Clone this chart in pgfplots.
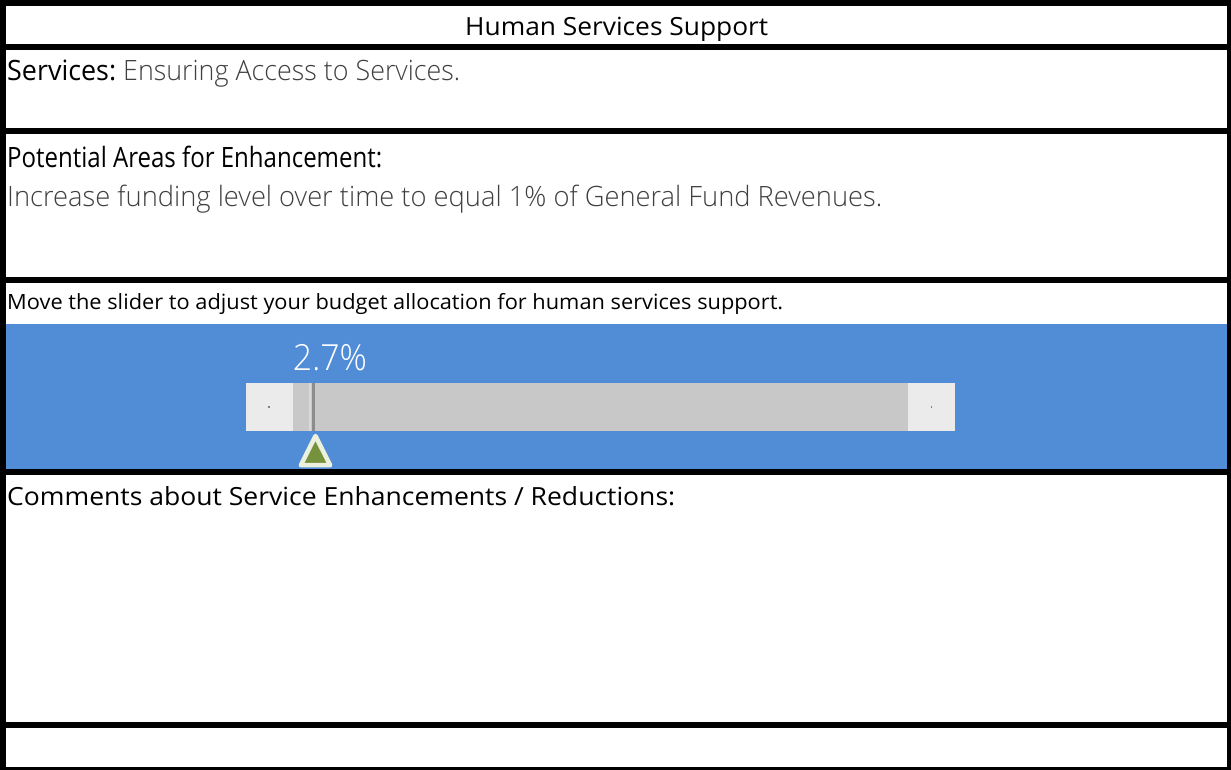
\documentclass[border=0pt]{standalone}
\usepackage{fontspec}
\setmainfont{Open Sans}
\newfontfamily\lightfont{Open Sans Light}
\usepackage{graphicx}
\usepackage{pgfplots}
\pgfplotsset{compat=1.18}
\definecolor{band}{HTML}{518DD7}
\definecolor{track}{HTML}{C8C8C8}
\definecolor{btn}{HTML}{EBEBEB}
\definecolor{txtgray}{HTML}{404040}
\definecolor{trifill}{HTML}{76923C}
\definecolor{triedge}{HTML}{EBF1DE}
% squeeze or stretch a line to the width it has in the reference
\newcommand\fitw[2]{\resizebox{#1}{\height}{#2}}

\begin{document}
\begin{tikzpicture}
\fill[white] (0,0) rectangle (1231pt,770pt);
% frame, one unit = one pixel, y downwards
\begin{axis}[name=frame,at={(0,0)},anchor=south west,width=1231pt,height=770pt,scale only axis,
  xmin=0,xmax=1231,ymin=0,ymax=770,y dir=reverse,hide axis,clip=false]
\fill[band] (axis cs:6,324) rectangle (axis cs:1227,469);
\fill[black] (axis cs:0,0) rectangle (axis cs:1231,6);
\fill[black] (axis cs:0,0) rectangle (axis cs:6,770);
\fill[black] (axis cs:1227,0) rectangle (axis cs:1231,770);
\fill[black] (axis cs:0,767) rectangle (axis cs:1231,770);
\fill[black] (axis cs:0,44) rectangle (axis cs:1231,50);
\fill[black] (axis cs:0,128) rectangle (axis cs:1231,134);
\fill[black] (axis cs:0,277) rectangle (axis cs:1231,283);
\fill[black] (axis cs:0,469) rectangle (axis cs:1231,475);
\fill[black] (axis cs:0,722) rectangle (axis cs:1231,728);
\node[anchor=base west,inner sep=0pt,font=\fontsize{25}{30}\selectfont] at (axis cs:465,36)
  {\fitw{303pt}{Human Services Support}};
\node[anchor=base west,inner sep=0pt,font=\fontsize{28}{33}\selectfont] at (axis cs:7,81)
  {\fitw{109pt}{Services:}};
\node[anchor=base west,inner sep=0pt,font=\fontsize{28}{33}\lightfont,text=txtgray] at (axis cs:123,81)
  {\fitw{337pt}{Ensuring Access to Services.}};
\node[anchor=base west,inner sep=0pt,font=\fontsize{28}{33}\selectfont] at (axis cs:7,168)
  {\fitw{375pt}{Potential Areas for Enhancement:}};
\node[anchor=base west,inner sep=0pt,font=\fontsize{28}{33}\lightfont,text=txtgray] at (axis cs:7,207)
  {\fitw{875pt}{Increase funding level over time to equal 1\% of General Fund Revenues.}};
\node[anchor=base west,inner sep=0pt,font=\fontsize{21}{25}\selectfont] at (axis cs:7,309)
  {\fitw{776pt}{Move the slider to adjust your budget allocation for human services support.}};
\node[anchor=base west,inner sep=0pt,font=\fontsize{25}{30}\selectfont] at (axis cs:7,505)
  {\fitw{668pt}{Comments about Service Enhancements / Reductions:}};
\end{axis}
% slider, y in pixels above the bottom of the blue band
\begin{axis}[name=slider,at={(293pt,301pt)},anchor=south west,width=615pt,height=145pt,scale only axis,
  xmin=0,xmax=87.4,ymin=0,ymax=145,hide axis,clip=false,
  /pgf/number format/assume math mode=true]
\fill[btn] ([xshift=-47pt]axis cs:0,38) rectangle (axis cs:0,86);
\fill[btn] (axis cs:87.4,38) rectangle ([xshift=47pt]axis cs:87.4,86);
\fill[track] (axis cs:0,38) rectangle (axis cs:87.4,86);
\fill[gray] ([xshift=-25pt]axis cs:0,61) rectangle ([xshift=-23.5pt]axis cs:0,62.5);
\fill[gray] ([xshift=22.5pt]axis cs:87.4,61) rectangle ([xshift=24pt]axis cs:87.4,62.5);
\addplot[draw=white!85!black,line width=2pt,forget plot] coordinates {(2.45,38) (2.45,86)};
\addplot[draw=black!45,line width=3pt] coordinates {(2.85,38) (2.85,86)};
\addplot[only marks,mark=triangle*,mark size=19.5pt,
  mark options={fill=trifill,draw=triedge,line width=4.5pt,line join=round,xscale=0.87,xshift=4pt}]
  coordinates {(2.7,13.5)};
\addplot[draw=none,point meta=x,
  nodes near coords={\fitw{74pt}{\pgfmathprintnumber{\pgfplotspointmeta}\%}},
  every node near coord/.style={anchor=center,xshift=18pt,text=white,font=\fontsize{36}{40}\lightfont}]
  coordinates {(2.7,111)};
\end{axis}
\end{tikzpicture}
\end{document}
